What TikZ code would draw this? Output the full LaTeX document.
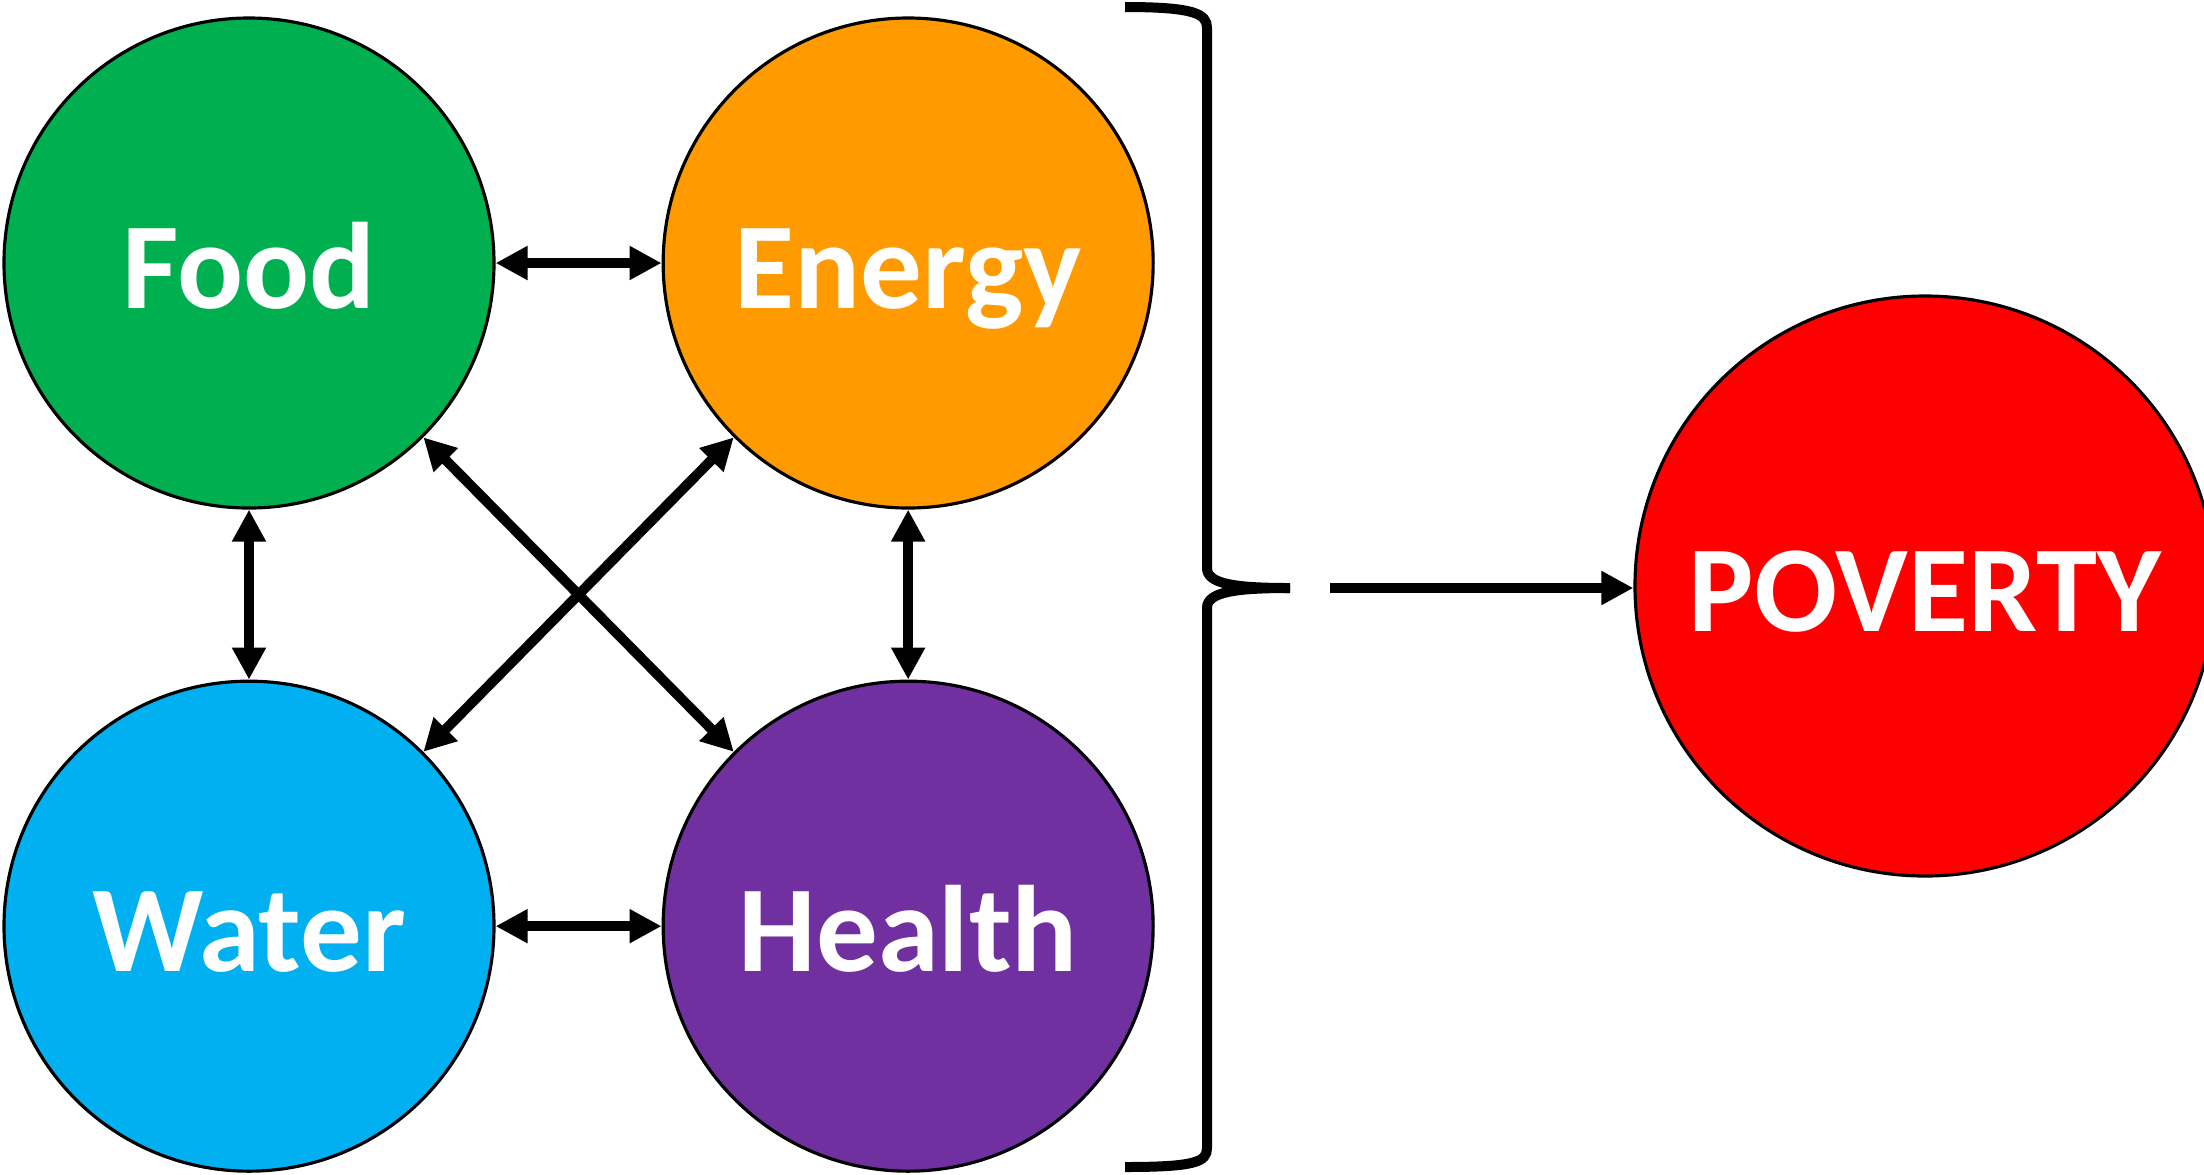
\documentclass[tikz,border=0pt]{standalone}
\usepackage{fontspec}
\setmainfont{Carlito}
\usepackage{xcolor}
\usepackage{tikz}
\usetikzlibrary{positioning,arrows.meta}
\definecolor{foodgreen}{HTML}{00B050}
\definecolor{energyorange}{HTML}{FF9A00}
\definecolor{waterblue}{HTML}{00B0F0}
\definecolor{healthpurple}{HTML}{7030A0}
\definecolor{povertyred}{HTML}{FF0000}
\tikzset{>={Triangle[length=3.2mm,width=3.2mm]}}

\begin{document}
\begin{tikzpicture}[
roundnode/.style={circle, draw=black, line width=0.9pt, minimum size=49mm, inner sep=0pt, text=white, text height=9mm, text depth=0mm, font=\fontsize{35}{42}\selectfont\bfseries},
link/.style={<->, line width=1mm},
]
\useasboundingbox (0,0) rectangle (22.04,-11.74);
%Nodes
\node[roundnode, fill=foodgreen](Food) at (2.49,-2.63){Food};
\node[roundnode, fill=energyorange](Energy)[right=16.6mm of Food]{Energy};
\node[roundnode, fill=waterblue](Water)[below=17mm of Food]{Water};
\node[roundnode, fill=healthpurple](Health)[right=16.6mm of Water]{Health};
\node[roundnode, fill=povertyred, minimum size=58mm](Poverty) at (19.25,-5.86){POVERTY};

%Brace
\coordinate (BraceTip) at (12.90,-5.88);
\coordinate (ArrowStart) at (13.30,-5.88);
\draw[line width=1mm] (11.25,-0.07) .. controls (11.95,-0.07) and (12.07,-0.14) .. (12.07,-0.28)
  -- (12.07,-5.68) .. controls (12.07,-5.84) and (12.35,-5.88) .. (BraceTip);
\draw[line width=1mm] (BraceTip) .. controls (12.35,-5.88) and (12.07,-5.92) .. (12.07,-6.08)
  -- (12.07,-11.48) .. controls (12.07,-11.62) and (11.95,-11.67) .. (11.25,-11.67);

%Lines
\draw[link] (Food.east) -- (Energy.west);
\draw[link] (Water.east) -- (Health.west);
\draw[link] (Food.south) -- (Water.north);
\draw[link] (Energy.south) -- (Health.north);
\draw[link] (Food.south east) -- (Health.north west);
\draw[link] (Energy.south west) -- (Water.north east);
\draw[->, line width=1mm] (ArrowStart) -- (ArrowStart -| Poverty.west);
\end{tikzpicture}
\end{document}
